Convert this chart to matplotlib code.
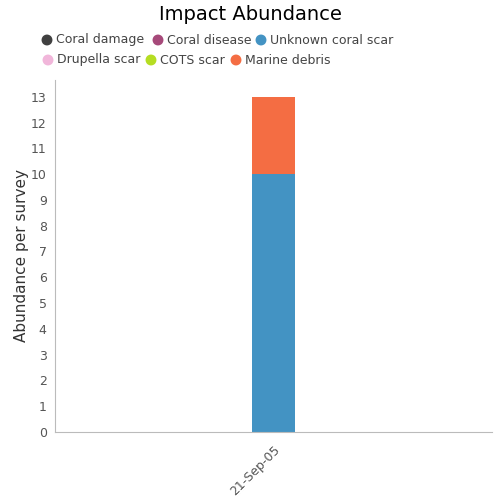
import numpy as np
import matplotlib
matplotlib.use('Agg')
import matplotlib.pyplot as plt

dates = ['21-Sep-05']
series = ['Coral damage', 'Coral disease', 'Unknown coral scar',
          'Drupella scar', 'COTS scar', 'Marine debris']
colors = ['#404040', '#a6497a', '#4393c3', '#f1b6da', '#b5dd22', '#f46d43']
values = {
    'Coral damage': [0],
    'Coral disease': [0],
    'Unknown coral scar': [10],
    'Drupella scar': [0],
    'COTS scar': [0],
    'Marine debris': [3],
}

fig = plt.figure(figsize=(5, 5), dpi=100)
ax = fig.add_axes([0.11, 0.136, 0.874, 0.704])

x = np.arange(len(dates))
bottom = np.zeros(len(dates))
for s, c in zip(series, colors):
    v = np.array(values[s], dtype=float)
    ax.bar(x, v, width=0.1, bottom=bottom, color=c, edgecolor='none')
    bottom += v

ax.set_xlim(-0.5, 0.5)
ax.set_ylim(0, 13.65)
ax.set_yticks(range(0, 14))
ax.set_xticks(x)
ax.set_xticklabels(dates, rotation=45, ha='right', rotation_mode='anchor')
ax.tick_params(length=0, labelsize=9, colors='#555555', pad=6)
ax.tick_params(axis='x', pad=8)
for sp in ['top', 'right']:
    ax.spines[sp].set_visible(False)
for sp in ['left', 'bottom']:
    ax.spines[sp].set_color('#bbbbbb')
ax.set_ylabel('Abundance per survey', fontsize=11, color='#333333', labelpad=1)

fig.text(0.5, 0.972, 'Impact Abundance', ha='center', va='center', fontsize=14)

# manual legend rows
leg_pos = [(47, 40), (158, 40), (261, 40), (48, 60), (151, 60), (236, 60)]
for (px, py), s, c in zip(leg_pos, series, colors):
    fig.patches.append(plt.Circle((px / 500, 1 - py / 500), 0.0095, color=c,
                                  transform=fig.transFigure, figure=fig))
    fig.text((px + 9) / 500, 1 - py / 500, s, ha='left', va='center',
             fontsize=9, color='#444444')

fig.savefig('out.png')
